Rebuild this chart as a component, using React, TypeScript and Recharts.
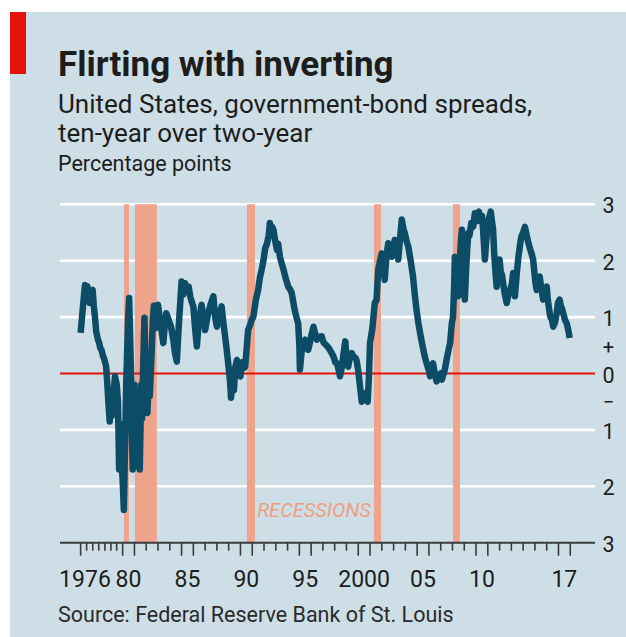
import React from "react";
import {
  LineChart,
  Line,
  XAxis,
  YAxis,
  CartesianGrid,
  ReferenceArea,
  ReferenceLine,
} from "recharts";

// spread, ten-year minus two-year (decimal years)
const years = [
  1976.43, 1976.55, 1976.7, 1976.8, 1976.9, 1977.0, 1977.1, 1977.2, 1977.35, 1977.45,
  1977.55, 1977.65, 1977.75, 1977.9, 1978.0, 1978.1, 1978.2, 1978.35, 1978.45, 1978.6,
  1978.7, 1978.8, 1978.9, 1979.0, 1979.1, 1979.25, 1979.35, 1979.5, 1979.6, 1979.7,
  1979.8, 1979.9, 1980.0, 1980.1, 1980.2, 1980.3, 1980.45, 1980.55, 1980.65, 1980.72,
  1980.78, 1980.85, 1980.9, 1980.95, 1981.0, 1981.05, 1981.12, 1981.18, 1981.25, 1981.3,
  1981.35, 1981.4, 1981.45, 1981.52, 1981.58, 1981.65, 1981.75,
  1981.85, 1981.92, 1982.0, 1982.1, 1982.2, 1982.3, 1982.45, 1982.55, 1982.65, 1982.75,
  1982.85, 1982.95, 1983.0, 1983.2, 1983.45, 1983.6, 1983.7, 1983.9, 1984.1, 1984.3,
  1984.45, 1984.6, 1984.75, 1984.9, 1985.0, 1985.15, 1985.3, 1985.45, 1985.6, 1985.75,
  1985.9, 1986.0, 1986.15, 1986.3, 1986.45, 1986.6, 1986.7, 1986.85, 1987.0, 1987.15,
  1987.3, 1987.5, 1987.7, 1987.85, 1988.0, 1988.15, 1988.3, 1988.4, 1988.55, 1988.7,
  1988.8, 1988.95, 1989.1, 1989.2, 1989.3, 1989.45, 1989.55, 1989.7, 1989.85, 1990.0,
  1990.15, 1990.3, 1990.4, 1990.55, 1990.65, 1990.8, 1990.95, 1991.1, 1991.3, 1991.5,
  1991.65, 1991.8, 1991.95, 1992.1, 1992.25, 1992.4, 1992.5, 1992.6, 1992.7, 1992.8,
  1992.95, 1993.1, 1993.2, 1993.35, 1993.5, 1993.65, 1993.8, 1994.05, 1994.2, 1994.35,
  1994.5, 1994.6, 1994.75, 1994.9, 1995.0, 1995.05, 1995.2, 1995.35, 1995.5, 1995.6,
  1995.75, 1995.9, 1996.05, 1996.2, 1996.35, 1996.5, 1996.7, 1996.9, 1997.05, 1997.3,
  1997.5, 1997.75, 1997.9, 1998.05, 1998.2, 1998.35, 1998.45, 1998.6, 1998.75, 1998.9,
  1999.0, 1999.15, 1999.3, 1999.45, 1999.6, 1999.75, 1999.85, 2000.0, 2000.15, 2000.3,
  2000.45, 2000.6, 2000.8, 2000.9, 2001.0, 2001.2, 2001.4, 2001.55, 2001.7, 2001.85,
  2002.0, 2002.1, 2002.25, 2002.4, 2002.55, 2002.7, 2002.85, 2003.0, 2003.1, 2003.25,
  2003.4, 2003.55, 2003.7, 2003.85, 2003.95, 2004.1, 2004.25, 2004.45, 2004.65, 2004.8,
  2004.95, 2005.1, 2005.25, 2005.45, 2005.65, 2005.85, 2006.0, 2006.1, 2006.2, 2006.35,
  2006.5, 2006.65, 2006.85, 2007.0, 2007.1, 2007.25, 2007.35, 2007.55, 2007.7, 2007.8,
  2007.95, 2008.05, 2008.15, 2008.2, 2008.3, 2008.4, 2008.5, 2008.6, 2008.7, 2008.8,
  2008.9, 2009.0, 2009.05, 2009.15, 2009.25, 2009.35, 2009.45, 2009.6, 2009.75, 2009.9,
  2010.05, 2010.25, 2010.4, 2010.5, 2010.6, 2010.75, 2010.85, 2011.0, 2011.1, 2011.25,
  2011.35, 2011.45, 2011.55, 2011.65, 2011.75, 2011.85, 2012.0, 2012.1, 2012.2, 2012.3,
  2012.45, 2012.6, 2012.75, 2012.9, 2013.05, 2013.15, 2013.25, 2013.3, 2013.45, 2013.6,
  2013.75, 2013.85, 2014.0, 2014.15, 2014.3, 2014.45, 2014.6, 2014.75, 2014.85, 2014.95,
  2015.05, 2015.15, 2015.3, 2015.4, 2015.55, 2015.7, 2015.85, 2016.0, 2016.1, 2016.2,
  2016.3, 2016.45, 2016.55, 2016.7, 2016.85, 2016.95, 2017.1, 2017.2, 2017.3, 2017.4,
  2017.55, 2017.7, 2017.85, 2017.95,
];

const spread = [
  0.72, 1.0, 1.35, 1.57, 1.45, 1.55, 1.3, 1.25, 1.45, 1.48,
  1.2, 1.0, 0.75, 0.6, 0.55, 0.45, 0.42, 0.3, 0.25, 0.12,
  -0.2, -0.55, -0.85, -0.6, -0.75, -0.3, -0.05, -0.2, -0.5, -1.7,
  -0.9, -1.5, -1.9, -2.42, -1.3, -0.2, 0.9, 1.34, 0.5, -0.1,
  -1.0, -1.7, -0.4, -1.3, -0.2, -1.65, -0.5, -0.3, -1.6, -0.6,
  -1.2, -0.3, -1.7, -0.9, -0.2, -0.8, 0.2,
  0.99, 0.3, -0.6, -0.7, -0.2, -0.4, 0.3, 0.9, 1.2, 0.8,
  1.15, 1.05, 1.22, 0.9, 0.54, 0.9, 1.07, 0.95, 0.83, 0.6,
  0.35, 0.21, 0.8, 1.3, 1.63, 1.4, 1.6, 1.45, 1.54, 1.35,
  1.25, 1.19, 0.8, 0.48, 0.9, 1.1, 1.22, 1.0, 0.77, 0.95,
  1.1, 1.25, 1.37, 1.0, 0.83, 1.05, 1.1, 1.19, 0.9, 0.65,
  0.48, 0.2, -0.1, -0.43, -0.2, -0.3, 0.1, 0.24, 0.05, -0.05,
  0.2, 0.1, 0.12, 0.5, 0.77, 0.85, 0.95, 1.01, 1.3, 1.48,
  1.7, 1.84, 2.0, 2.22, 2.3, 2.45, 2.67, 2.5, 2.6, 2.55,
  2.35, 2.19, 2.3, 2.07, 1.95, 1.85, 1.72, 1.54, 1.5, 1.43,
  1.25, 1.13, 1.0, 0.89, 0.5, 0.07, 0.4, 0.55, 0.6, 0.45,
  0.42, 0.55, 0.7, 0.83, 0.7, 0.6, 0.65, 0.66, 0.55, 0.5,
  0.45, 0.36, 0.3, 0.2, 0.18, 0.05, -0.05, 0.1, 0.35, 0.57,
  0.3, 0.12, 0.3, 0.36, 0.3, 0.28, 0.24, 0.05, -0.23, -0.5,
  -0.35, -0.45, -0.5, -0.1, 0.54, 0.8, 1.25, 1.3, 1.84, 2.0,
  2.13, 1.95, 1.66, 2.1, 2.31, 2.2, 2.07, 2.25, 2.37, 2.3,
  2.02, 2.4, 2.73, 2.55, 2.49, 2.35, 2.25, 2.0, 1.72, 1.4,
  1.13, 0.9, 0.72, 0.5, 0.3, 0.15, 0.05, -0.05, 0.1, 0.18,
  0.0, -0.14, -0.05, 0.0, -0.11, 0.0, 0.07, 0.3, 0.45, 0.54,
  0.9, 1.01, 1.6, 2.07, 1.8, 1.5, 1.37, 1.9, 2.3, 2.55,
  1.8, 1.5, 1.31, 1.8, 2.2, 2.49, 2.45, 2.67, 2.6, 2.84,
  2.7, 2.87, 2.7, 2.8, 2.55, 2.02, 2.3, 2.67, 2.75, 2.87,
  2.7, 2.55, 2.1, 1.8, 1.54, 1.8, 2.02, 1.8, 1.75, 1.6,
  1.4, 1.25, 1.4, 1.48, 1.6, 1.78, 1.5, 1.37, 1.75, 2.07,
  2.3, 2.43, 2.5, 2.6, 2.45, 2.31, 2.2, 2.1, 2.02, 1.8,
  1.6, 1.48, 1.6, 1.72, 1.5, 1.31, 1.45, 1.54, 1.3, 1.15,
  1.01, 0.95, 0.83, 0.9, 1.07, 1.25, 1.31, 1.2, 1.15, 1.07,
  0.95, 0.89, 0.75, 0.63,
];

// recession bands as drawn on the chart
const recessionStart = [1980.11, 1981.04, 1990.55, 2001.33, 2008.04];
const recessionEnd = [1980.53, 1982.9, 1991.23, 2001.93, 2008.63];

// axis ticks
const tickYears = [
  1976.43, 1976.94, 1977.46, 1977.97, 1978.49, 1979.0, 1979.49, 1980,
  1981, 1982, 1983, 1984, 1985, 1986, 1987, 1988, 1989, 1990,
  1991, 1992, 1993, 1994, 1995, 1996, 1997, 1998, 1999, 2000,
  2001, 2002, 2003, 2004, 2005, 2006, 2007, 2008, 2009, 2010,
  2011, 2012, 2013, 2014, 2015, 2016, 2017, 2018,
];
const longTicks = [
  1976.43, 1980, 1981, 1985, 1986, 1990, 1991, 1995, 1996,
  2000, 2001, 2005, 2006, 2010, 2011, 2017, 2018,
];
// labels sit mid-year, between two long ticks
const labelYears = [1976.8, 1980.5, 1985.5, 1990.5, 1995.5, 2000.5, 2005.5, 2010.5, 2017.5];
const labelText = ["1976", "80", "85", "90", "95", "2000", "05", "10", "17"];
const yTicks = [3, 2, 1, 0, -1, -2, -3];

const FONT = "Roboto, 'Noto Sans', sans-serif";
const INK = "#1d1d1b";

const data = years.map((y, i) => ({ year: y, spread: spread[i] }));
const xTicks = [...tickYears, ...labelYears].sort((a, b) => a - b);

function XTick(props: any) {
  const { x, y, payload } = props;
  const idx = labelYears.indexOf(payload.value);
  if (idx >= 0) {
    return (
      <text x={x} y={y + 44} textAnchor="middle" fill={INK} style={{ fontSize: 23, fontFamily: FONT }}>
        {labelText[idx]}
      </text>
    );
  }
  const long = longTicks.includes(payload.value);
  return (
    <line x1={x} x2={x} y1={y} y2={y + (long ? 13 : 8)} stroke="#3b3b3b" strokeWidth={1.6} />
  );
}

function ValueLabel(props: any) {
  const { y, payload } = props;
  const v = payload.value;
  const cx = 608.5;
  return (
    <g>
      <text x={cx} y={y + 9} textAnchor="middle" fill={INK} style={{ fontSize: 21.5, fontFamily: FONT }}>
        {Math.abs(v)}
      </text>
      {v === 0 && (
        <>
          <text x={cx} y={y - 20} textAnchor="middle" fill={INK} style={{ fontSize: 20, fontFamily: FONT }}>
            +
          </text>
          <text x={cx} y={y + 35} textAnchor="middle" fill={INK} style={{ fontSize: 20, fontFamily: FONT }}>
            −
          </text>
        </>
      )}
    </g>
  );
}

export default function App() {
  return (
    <div style={{ position: "absolute", left: 0, top: 0, width: 626, height: 637, background: "#ffffff", overflow: "hidden" }}>
      <div style={{ position: "absolute", left: 10, top: 12, width: 616, height: 625, background: "#cedee7" }} />
      <div style={{ position: "absolute", left: 0, top: 0 }}>
        <LineChart
          width={626}
          height={637}
          data={data}
          margin={{ top: 204.3, right: 0, left: 60, bottom: 50.3 }}
        >
          <CartesianGrid
            vertical={false}
            horizontalValues={[3, 2, 1, -1, -2]}
            stroke="#ffffff"
            strokeWidth={2.6}
          />
          {recessionStart.map((s, i) => (
            <ReferenceArea
              key={i}
              x1={s}
              x2={recessionEnd[i]}
              fill="#eea38a"
              fillOpacity={1}
              stroke="none"
            />
          ))}
          <ReferenceLine y={0} stroke="#e3120b" strokeWidth={1.8} />
          <XAxis
            dataKey="year"
            type="number"
            domain={[1974.68, 2020.1]}
            ticks={xTicks}
            interval={0}
            height={44}
            tickSize={0}
            tickMargin={0}
            tickLine={false}
            axisLine={{ stroke: "#3b3b3b", strokeWidth: 2 }}
            tick={<XTick />}
            allowDataOverflow
          />
          <YAxis
            orientation="right"
            type="number"
            domain={[-3, 3]}
            ticks={yTicks}
            interval={0}
            width={31}
            tickSize={0}
            tickMargin={0}
            tickLine={false}
            axisLine={false}
            tick={<ValueLabel />}
          />
          <Line
            type="linear"
            dataKey="spread"
            stroke="#0d4c67"
            strokeWidth={6.5}
            strokeLinejoin="round"
            dot={false}
            activeDot={false}
            isAnimationActive={false}
          />
        </LineChart>
      </div>
      <svg width={626} height={637} style={{ position: "absolute", left: 0, top: 0, pointerEvents: "none" }}>
        <rect x={10} y={12} width={16} height={62} fill="#e3120b" />
        <text x={58} y={76} fill={INK} style={{ fontSize: 35, fontWeight: 700, fontFamily: FONT }}>
          Flirting with inverting
        </text>
        <text x={58} y={113} fill={INK} style={{ fontSize: 26, fontFamily: FONT }}>
          United States, government-bond spreads,
        </text>
        <text x={58} y={142} fill={INK} style={{ fontSize: 26, fontFamily: FONT }}>
          ten-year over two-year
        </text>
        <text x={58} y={171} fill={INK} style={{ fontSize: 21.5, fontFamily: FONT }}>
          Percentage points
        </text>
        <text x={314} y={517} textAnchor="middle" fill="#ee9f82" style={{ fontSize: 20, fontStyle: "italic", fontFamily: FONT }}>
          RECESSIONS
        </text>
        <text x={58} y={622} fill="#2a2a2a" style={{ fontSize: 21.5, fontFamily: FONT }}>
          Source: Federal Reserve Bank of St. Louis
        </text>
      </svg>
    </div>
  );
}
